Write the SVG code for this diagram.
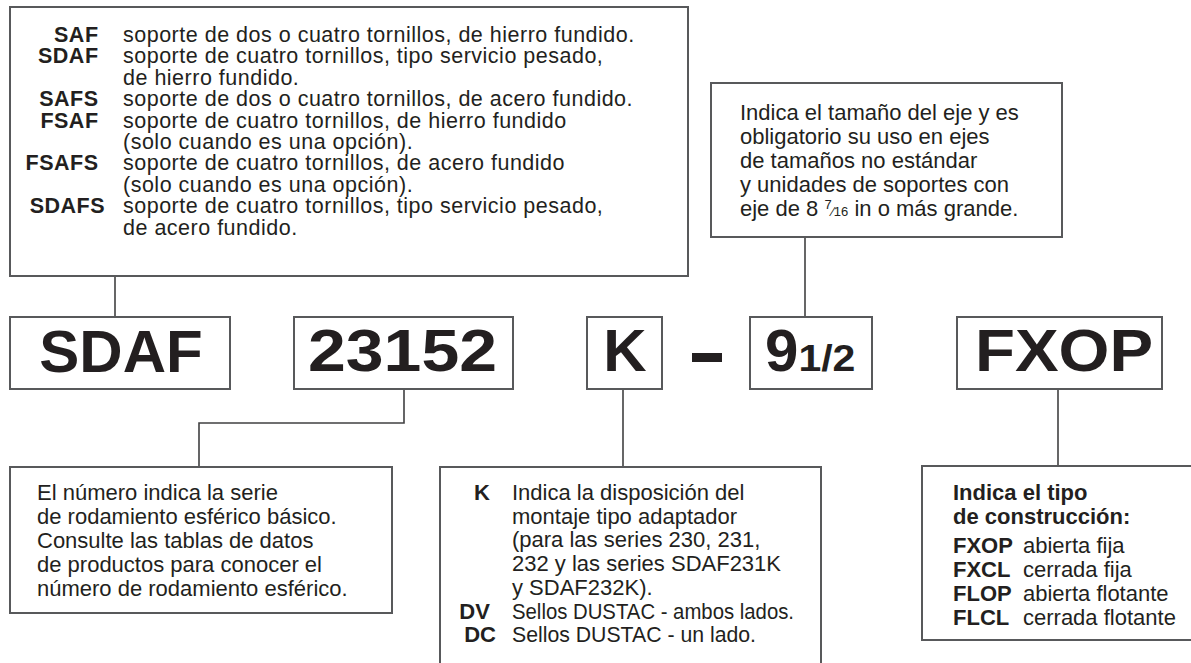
<svg xmlns="http://www.w3.org/2000/svg" width="1191" height="663" viewBox="0 0 1191 663">
<style>
.box{fill:#fff;stroke:#58595b;stroke-width:2}
.ln{fill:none;stroke:#404041;stroke-width:1.6}
.t{font-family:"Liberation Sans",Arial,sans-serif;font-size:22px;fill:#231f20}
.tt{font-size:21.5px;letter-spacing:0.5px}
.b{font-weight:bold}
.big{font-family:"Liberation Sans",Arial,sans-serif;font-size:60px;font-weight:bold;fill:#231f20}
</style>
<rect width="1191" height="663" fill="#fff"/>
<g id="connectors">
<path class="ln" d="M115 276V317"/>
<path class="ln" d="M805 237V317"/>
<path class="ln" d="M404 389V423H199V467"/>
<path class="ln" d="M623 389V467"/>
<path class="ln" d="M1058 389V466"/>
</g>
<g id="note-soporte">
<rect class="box" x="10" y="7" width="678" height="269"/>
<text class="t tt b" text-anchor="end">
<tspan x="105" y="42">SAF</tspan>
<tspan x="105" y="63.4">SDAF</tspan>
<tspan x="105" y="106.2">SAFS</tspan>
<tspan x="105" y="127.6">FSAF</tspan>
<tspan x="105" y="170.4">FSAFS</tspan>
<tspan x="105" y="213.2">SDAFS</tspan>
</text>
<text class="t tt">
<tspan x="123" y="42">soporte de dos o cuatro tornillos, de hierro fundido.</tspan>
<tspan x="123" y="63.4">soporte de cuatro tornillos, tipo servicio pesado,</tspan>
<tspan x="123" y="84.8">de hierro fundido.</tspan>
<tspan x="123" y="106.2">soporte de dos o cuatro tornillos, de acero fundido.</tspan>
<tspan x="123" y="127.6">soporte de cuatro tornillos, de hierro fundido</tspan>
<tspan x="123" y="149">(solo cuando es una opción).</tspan>
<tspan x="123" y="170.4">soporte de cuatro tornillos, de acero fundido</tspan>
<tspan x="123" y="191.8">(solo cuando es una opción).</tspan>
<tspan x="123" y="213.2">soporte de cuatro tornillos, tipo servicio pesado,</tspan>
<tspan x="123" y="234.6">de acero fundido.</tspan>
</text>
</g>
<g id="note-eje">
<rect class="box" x="711" y="83" width="351" height="154"/>
<text class="t">
<tspan x="740" y="120">Indica el tamaño del eje y es</tspan>
<tspan x="740" y="144">obligatorio su uso en ejes</tspan>
<tspan x="740" y="168">de tamaños no estándar</tspan>
<tspan x="740" y="192">y unidades de soportes con</tspan>
<tspan x="740" y="216">eje de 8 <tspan font-size="13" dy="-7">7</tspan><tspan font-size="13" dy="7">⁄16</tspan> in o más grande.</tspan>
</text>
</g>
<g id="code-sdaf">
<rect class="box" x="10" y="317" width="220" height="72"/>
<text class="big" x="121" y="372" text-anchor="middle">SDAF</text>
</g>
<g id="code-23152">
<rect class="box" x="294" y="317" width="219" height="72"/>
<text class="big" x="308" y="371" textLength="189" lengthAdjust="spacingAndGlyphs">23152</text>
</g>
<g id="code-k">
<rect class="box" x="587" y="317" width="75" height="72"/>
<text class="big" x="625" y="371" text-anchor="middle">K</text>
</g>
<g id="dash">
<rect x="692" y="353" width="30" height="9" fill="#231f20"/>
</g>
<g id="code-size">
<rect class="box" x="750" y="317" width="122" height="72"/>
<text class="big" x="765" y="371">9<tspan font-size="36" textLength="57" lengthAdjust="spacingAndGlyphs">1/2</tspan></text>
</g>
<g id="code-fxop">
<rect class="box" x="957" y="317" width="205" height="72"/>
<text class="big" x="975" y="371" textLength="178" lengthAdjust="spacingAndGlyphs">FXOP</text>
</g>
<g id="note-serie">
<rect class="box" x="10" y="467" width="382" height="146"/>
<text class="t">
<tspan x="37" y="500">El número indica la serie</tspan>
<tspan x="37" y="524">de rodamiento esférico básico.</tspan>
<tspan x="37" y="548">Consulte las tablas de datos</tspan>
<tspan x="37" y="572">de productos para conocer el</tspan>
<tspan x="37" y="596">número de rodamiento esférico.</tspan>
</text>
</g>
<g id="note-adaptador">
<path class="box" d="M440 670V467H821V670"/>
<text class="t b" text-anchor="end">
<tspan x="496" y="500">K</tspan>
<tspan x="496" y="618.5">DV</tspan>
<tspan x="496" y="642">DC</tspan>
</text>
<text class="t">
<tspan x="512" y="500">Indica la disposición del</tspan>
<tspan x="512" y="523.7">montaje tipo adaptador</tspan>
<tspan x="512" y="547.4">(para las series 230, 231,</tspan>
<tspan x="512" y="571">232 y las series SDAF231K</tspan>
<tspan x="512" y="594.8">y SDAF232K).</tspan>
</text>
<text class="t" x="512" y="618.5" textLength="282" lengthAdjust="spacingAndGlyphs">Sellos DUSTAC - ambos lados.</text>
<text class="t" x="512" y="642" textLength="244" lengthAdjust="spacingAndGlyphs">Sellos DUSTAC - un lado.</text>
</g>
<g id="note-construccion">
<rect class="box" x="922" y="466" width="290" height="174"/>
<text class="t b">
<tspan x="953" y="500">Indica el tipo</tspan>
<tspan x="953" y="524">de construcción:</tspan>
<tspan x="953" y="553">FXOP</tspan>
<tspan x="953" y="577">FXCL</tspan>
<tspan x="953" y="601">FLOP</tspan>
<tspan x="953" y="625">FLCL</tspan>
</text>
<text class="t">
<tspan x="1023" y="553">abierta fija</tspan>
<tspan x="1023" y="577">cerrada fija</tspan>
<tspan x="1023" y="601">abierta flotante</tspan>
<tspan x="1023" y="625">cerrada flotante</tspan>
</text>
</g>
</svg>
